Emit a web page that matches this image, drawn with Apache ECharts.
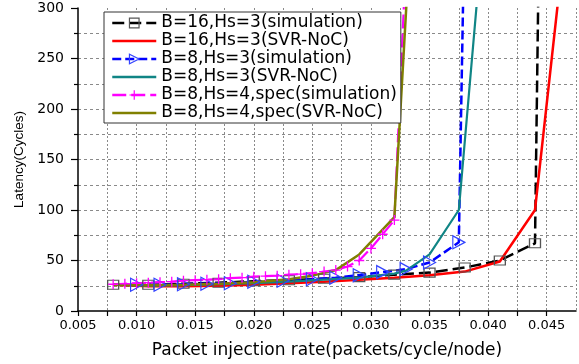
<!DOCTYPE html>
<html>
<head>
<meta charset="utf-8">
<script src="https://cdn.jsdelivr.net/npm/echarts@6/dist/echarts.min.js"></script>
<style>
  html, body { margin: 0; padding: 0; background: #fff; }
  #chart { width: 579px; height: 364px; }
</style>
</head>
<body>
<div id="chart"></div>
<script>
// B=16, Hs=3 simulation (black dashed, squares)
const b16SimX = [0.008, 0.011, 0.014, 0.017, 0.020, 0.023, 0.026, 0.029, 0.032, 0.035, 0.038, 0.041, 0.044, 0.0443]
const b16SimY = [26, 26, 27, 28, 29.5, 30.5, 32, 33.5, 36, 38, 43, 50, 67, 330]

// B=16, Hs=3 SVR-NoC (red)
const b16SvrX = [0.008, 0.011, 0.014, 0.017, 0.020, 0.023, 0.026, 0.029, 0.032, 0.035, 0.038, 0.041, 0.044, 0.047]
const b16SvrY = [26, 24.5, 24.5, 25, 26, 27.5, 29, 31, 33, 35.5, 39, 49, 100, 415]

// B=8, Hs=3 simulation (blue dashed, triangles)
const b8SimX = [0.010, 0.012, 0.014, 0.016, 0.018, 0.020, 0.0225, 0.025, 0.027, 0.029, 0.031, 0.033, 0.035, 0.0375, 0.0379]
const b8SimY = [26, 26, 26.5, 27, 27.5, 29, 30, 31.5, 33, 35.5, 38.5, 41.5, 48, 68, 330]

// B=8, Hs=3 SVR-NoC (teal)
const b8SvrX = [0.008, 0.011, 0.014, 0.017, 0.020, 0.023, 0.026, 0.029, 0.032, 0.033, 0.035, 0.0375, 0.0398]
const b8SvrY = [26, 25, 25.5, 26.5, 27.5, 29, 31, 33, 37, 40, 56, 100, 407]

// B=8, Hs=4, spec simulation (magenta dashed, plus)
const specSimX = [0.008, 0.009, 0.010, 0.011, 0.012, 0.013, 0.014, 0.015, 0.016, 0.017, 0.018, 0.019, 0.020,
  0.021, 0.022, 0.023, 0.024, 0.025, 0.026, 0.027, 0.028, 0.029, 0.030, 0.031, 0.032, 0.033]
const specSimY = [26.5, 27, 27.5, 28, 28.5, 29, 30, 30.5, 31, 31.5, 32.5, 33, 34,
  34.5, 35, 36, 36.5, 37.5, 39, 40.5, 44, 50, 62, 76, 90, 352]

// B=8, Hs=4, spec SVR-NoC (olive)
const specSvrX = [0.008, 0.011, 0.014, 0.017, 0.020, 0.023, 0.025, 0.027, 0.029, 0.032, 0.0335]
const specSvrY = [26, 25.5, 26, 27, 28.5, 31.5, 35, 40.5, 56, 93, 400]

const seriesNames = [
  'B=16,Hs=3(simulation)',
  'B=16,Hs=3(SVR-NoC)',
  'B=8,Hs=3(simulation)',
  'B=8,Hs=3(SVR-NoC)',
  'B=8,Hs=4,spec(simulation)',
  'B=8,Hs=4,spec(SVR-NoC)',
]

const xTickStep = 0.0025

const pairs = (xs, ys) => xs.map((x, i) => [x, ys[i]])

// solid curves get an invisible symbol so the legend shows a bare line
const plainLine = (name, xs, ys, color, width) => ({
  name,
  type: 'line',
  data: pairs(xs, ys),
  showSymbol: false,
  symbol: 'circle',
  itemStyle: { color, opacity: 0 },
  lineStyle: { color, width },
  emphasis: { disabled: true },
})

const chart = echarts.init(document.getElementById('chart'), null, { renderer: 'canvas' })

const dotted = (type) => ({ lineStyle: { color: '#8a8a8a', width: 1, type } })

chart.setOption({
  animation: false,
  textStyle: { fontFamily: '"DejaVu Sans", sans-serif', color: '#000' },
  grid: { left: 78, right: 3, top: 8, bottom: 50, containLabel: false },
  legend: {
    orient: 'vertical',
    left: 104,
    top: 12,
    padding: [2, 4, 1, 7],
    itemWidth: 44,
    itemHeight: 12,
    itemGap: 0,
    backgroundColor: '#fff',
    borderColor: '#333',
    borderWidth: 1,
    borderRadius: 0,
    selectedMode: false,
    lineStyle: { width: 2.5 },
    itemStyle: { borderWidth: 1.2 },
    textStyle: { fontSize: 17, lineHeight: 18, color: '#000', fontFamily: '"DejaVu Sans", sans-serif' },
    data: seriesNames,
  },
  xAxis: {
    type: 'value',
    min: 0.005,
    max: 0.0475,
    interval: xTickStep,
    name: 'Packet injection rate(packets/cycle/node)',
    nameLocation: 'middle',
    nameGap: 31,
    nameTextStyle: { fontSize: 17, color: '#000' },
    axisLine: { show: true, lineStyle: { color: '#000', width: 1.5 } },
    axisTick: { show: true, length: 5, lineStyle: { color: '#000', width: 1.2 } },
    axisLabel: {
      fontSize: 13,
      color: '#000',
      margin: 8,
      showMaxLabel: false,
      formatter: (v) => (Math.round(v / xTickStep) % 2 === 0 ? v.toFixed(3) : ''),
    },
    splitLine: Object.assign({ show: true, showMinLine: false }, dotted([2, 2])),
  },
  yAxis: {
    type: 'value',
    min: 0,
    max: 300,
    interval: 50,
    name: 'Latency(Cycles)',
    nameLocation: 'middle',
    nameGap: 51,
    nameTextStyle: { fontSize: 13.5, color: '#000', fontFamily: '"Liberation Sans", Arial, sans-serif' },
    axisLine: { show: true, lineStyle: { color: '#000', width: 1.5 } },
    axisTick: { show: true, length: 7, lineStyle: { color: '#000', width: 1.2 } },
    minorTick: { show: true, splitNumber: 2, length: 4, lineStyle: { color: '#000', width: 1.2 } },
    axisLabel: { fontSize: 14, color: '#000', margin: 14 },
    splitLine: Object.assign({ show: true, showMinLine: false, showMaxLine: false }, dotted([3, 3])),
    minorSplitLine: Object.assign({ show: true }, dotted([3, 3])),
  },
  series: [
    {
      name: seriesNames[0],
      type: 'line',
      data: pairs(b16SimX, b16SimY),
      symbol: 'rect',
      symbolSize: [11, 9],
      itemStyle: { color: 'rgba(255,255,255,0)', borderColor: '#555', borderWidth: 1.2 },
      lineStyle: { color: '#000', width: 2.5, type: [12, 5] },
      emphasis: { disabled: true },
    },
    plainLine(seriesNames[1], b16SvrX, b16SvrY, '#ff0000', 2.5),
    {
      name: seriesNames[2],
      type: 'line',
      data: pairs(b8SimX, b8SimY),
      symbol: 'triangle',
      symbolRotate: -90,
      symbolSize: [13, 12],
      itemStyle: { color: 'rgba(255,255,255,0)', borderColor: '#3344ff', borderWidth: 1.2 },
      lineStyle: { color: '#0000ff', width: 2.5, type: [9, 4] },
      emphasis: { disabled: true },
    },
    plainLine(seriesNames[3], b8SvrX, b8SvrY, '#108585', 2.2),
    {
      name: seriesNames[4],
      type: 'line',
      data: pairs(specSimX, specSimY),
      symbol: 'path://M5,0L5,10M0,5L10,5',
      symbolSize: 10,
      itemStyle: { color: '#ff00ff', borderColor: '#ff00ff', borderWidth: 1.3 },
      lineStyle: { color: '#ff00ff', width: 2.2, type: [14, 5] },
      emphasis: { disabled: true },
    },
    plainLine(seriesNames[5], specSvrX, specSvrY, '#808000', 2.5),
  ],
})
</script>
</body>
</html>
